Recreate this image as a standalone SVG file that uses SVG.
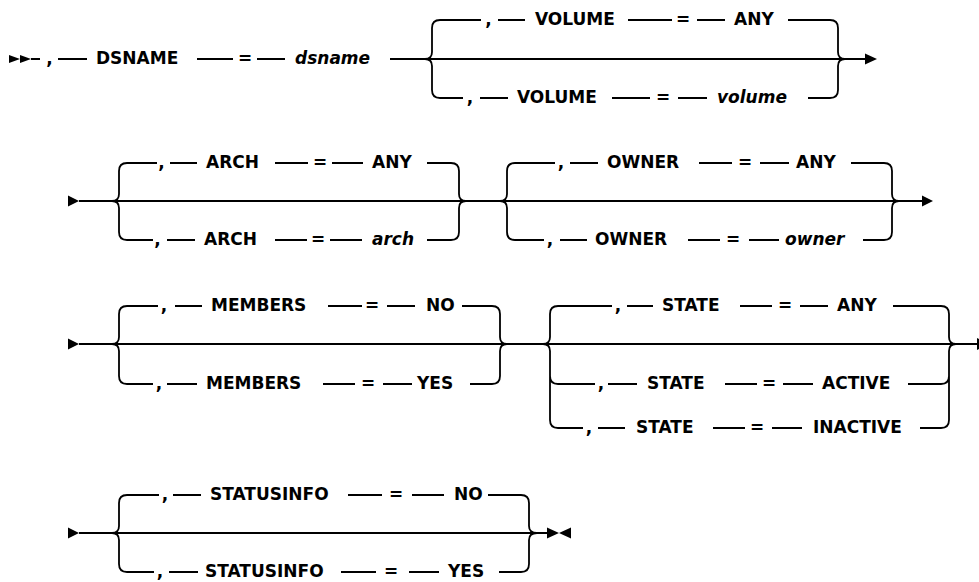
<svg xmlns="http://www.w3.org/2000/svg" width="979" height="582" viewBox="0 0 979 582">
<style>
.ln{stroke:#000;stroke-width:1.8;fill:none;stroke-linecap:butt}
.ar{fill:#000;stroke:none}
text{font-family:"DejaVu Sans","Liberation Sans",sans-serif;font-weight:bold;font-size:17px;fill:#000}
.i{font-style:italic}
.m{text-anchor:middle}
</style>
<rect width="979" height="582" fill="#fff"/>
<g id="connectors">
<!-- row 1 -->
<polygon class="ar" points="9,55 9,63 20,59"/>
<polygon class="ar" points="20,55 20,63 31,59"/>
<path class="ln" d="M31,59H40 M58,59H87 M197,59H233 M257,59H285 M390,59H865"/>
<path class="ln" d="M481,20H440Q432,20 432,28V52Q432,59 425,59Q432,59 432,66V90Q432,98 440,98H463"/>
<path class="ln" d="M498,20H525 M628,20H672 M697,20H725 M788,20H830"/>
<path class="ln" d="M480,98H508 M612,98H650 M678,98H707 M808,98H830"/>
<path class="ln" d="M830,20Q838,20 838,28V52Q838,59 845,59Q838,59 838,66V90Q838,98 830,98"/>
<polygon class="ar" points="865,53.5 865,64.5 877,59"/>
<!-- row 2 -->
<polygon class="ar" points="68,195.5 68,206.5 79,201"/>
<path class="ln" d="M79,201H922"/>
<path class="ln" d="M157,163H127Q119,163 119,171V194Q119,201 112,201Q119,201 119,208V232Q119,240 127,240H153"/>
<path class="ln" d="M170,163H197 M275,163H308 M332,163H363 M427,163H451"/>
<path class="ln" d="M167,240H195 M275,240H307 M330,240H362 M427,240H451"/>
<path class="ln" d="M451,163Q459,163 459,171V194Q459,201 466,201Q459,201 459,208V232Q459,240 451,240"/>
<path class="ln" d="M555,163H515Q507,163 507,171V194Q507,201 500,201Q507,201 507,208V232Q507,240 515,240H544"/>
<path class="ln" d="M570,163H598 M699,163H732 M760,163H789 M851,163H884"/>
<path class="ln" d="M560,240H587 M688,240H720 M749,240H779 M863,240H884"/>
<path class="ln" d="M884,163Q892,163 892,171V194Q892,201 899,201Q892,201 892,208V232Q892,240 884,240"/>
<polygon class="ar" points="922,195.5 922,206.5 933,201"/>
<!-- row 3 -->
<polygon class="ar" points="68,338.5 68,349.5 79,344"/>
<path class="ln" d="M79,344H979"/>
<path class="ln" d="M158,306H127Q119,306 119,314V337Q119,344 112,344Q119,344 119,351V376Q119,384 127,384H153"/>
<path class="ln" d="M175,306H202 M328,306H362 M387,306H415 M462,306H492"/>
<path class="ln" d="M167,384H197 M323,384H355 M383,384H412 M470,384H492"/>
<path class="ln" d="M492,306Q500,306 500,314V337Q500,344 507,344Q500,344 500,351V376Q500,384 492,384"/>
<path class="ln" d="M612,306H558Q550,306 550,314V337Q550,344 543,344Q550,344 550,351V420Q550,428 558,428H583 M550,376Q550,384 558,384H595"/>
<path class="ln" d="M627,306H653 M740,306H772 M800,306H828 M893,306H941"/>
<path class="ln" d="M608,384H637 M725,384H757 M783,384H813 M908,384H941"/>
<path class="ln" d="M598,428H625 M713,428H745 M772,428H802 M920,428H941"/>
<path class="ln" d="M941,306Q949,306 949,314V337Q949,344 956,344Q949,344 949,351V420Q949,428 941,428 M941,384Q949,384 949,376"/>
<polygon class="ar" points="977,338 977,350 989,344"/>
<!-- row 4 -->
<polygon class="ar" points="68,527.5 68,538.5 79,533"/>
<path class="ln" d="M79,533H547"/>
<path class="ln" d="M159,495H127Q119,495 119,503V526Q119,533 112,533Q119,533 119,540V564Q119,572 127,572H154"/>
<path class="ln" d="M173,495H201 M348,495H382 M412,495H444 M488,495H521"/>
<path class="ln" d="M169,572H198 M341,572H376 M409,572H439 M499,572H521"/>
<path class="ln" d="M521,495Q529,495 529,503V526Q529,533 537,533Q529,533 529,540V564Q529,572 521,572"/>
<polygon class="ar" points="547,527.5 547,538.5 559,533"/>
<polygon class="ar" points="571,527.5 571,538.5 559,533"/>
</g>
<g id="dsname"><text class="m" x="49.5" y="64">,</text><text x="96" y="64">DSNAME</text><text class="m" x="245" y="64">=</text><text class="i" x="295" y="64">dsname</text></g>
<g id="volume-any"><text class="m" x="488.5" y="25">,</text><text x="535" y="25">VOLUME</text><text class="m" x="683" y="25">=</text><text x="734" y="25">ANY</text></g>
<g id="volume-value"><text class="m" x="470" y="103">,</text><text x="517" y="103">VOLUME</text><text class="m" x="663" y="103">=</text><text class="i" x="717" y="103">volume</text></g>
<g id="arch-any"><text class="m" x="161.5" y="168">,</text><text x="206" y="168">ARCH</text><text class="m" x="320" y="168">=</text><text x="372" y="168">ANY</text></g>
<g id="arch-value"><text class="m" x="157.5" y="245">,</text><text x="204" y="245">ARCH</text><text class="m" x="318" y="245">=</text><text class="i" x="372" y="245">arch</text></g>
<g id="owner-any"><text class="m" x="561" y="168">,</text><text x="607" y="168">OWNER</text><text class="m" x="745" y="168">=</text><text x="796" y="168">ANY</text></g>
<g id="owner-value"><text class="m" x="550" y="245">,</text><text x="595" y="245">OWNER</text><text class="m" x="733" y="245">=</text><text class="i" x="785" y="245">owner</text></g>
<g id="members-no"><text class="m" x="164" y="311">,</text><text x="211" y="311">MEMBERS</text><text class="m" x="372" y="311">=</text><text x="426" y="311">NO</text></g>
<g id="members-yes"><text class="m" x="159" y="389">,</text><text x="206" y="389">MEMBERS</text><text class="m" x="368" y="389">=</text><text x="417" y="389">YES</text></g>
<g id="state-any"><text class="m" x="618" y="311">,</text><text x="662" y="311">STATE</text><text class="m" x="785" y="311">=</text><text x="837" y="311">ANY</text></g>
<g id="state-active"><text class="m" x="601" y="389">,</text><text x="647" y="389">STATE</text><text class="m" x="769" y="389">=</text><text x="822" y="389">ACTIVE</text></g>
<g id="state-inactive"><text class="m" x="589" y="433">,</text><text x="636" y="433">STATE</text><text class="m" x="757" y="433">=</text><text x="813" y="433">INACTIVE</text></g>
<g id="statusinfo-no"><text class="m" x="165" y="500">,</text><text x="210" y="500">STATUSINFO</text><text class="m" x="396" y="500">=</text><text x="454" y="500">NO</text></g>
<g id="statusinfo-yes"><text class="m" x="160" y="577">,</text><text x="205" y="577">STATUSINFO</text><text class="m" x="391" y="577">=</text><text x="448" y="577">YES</text></g>
</svg>
